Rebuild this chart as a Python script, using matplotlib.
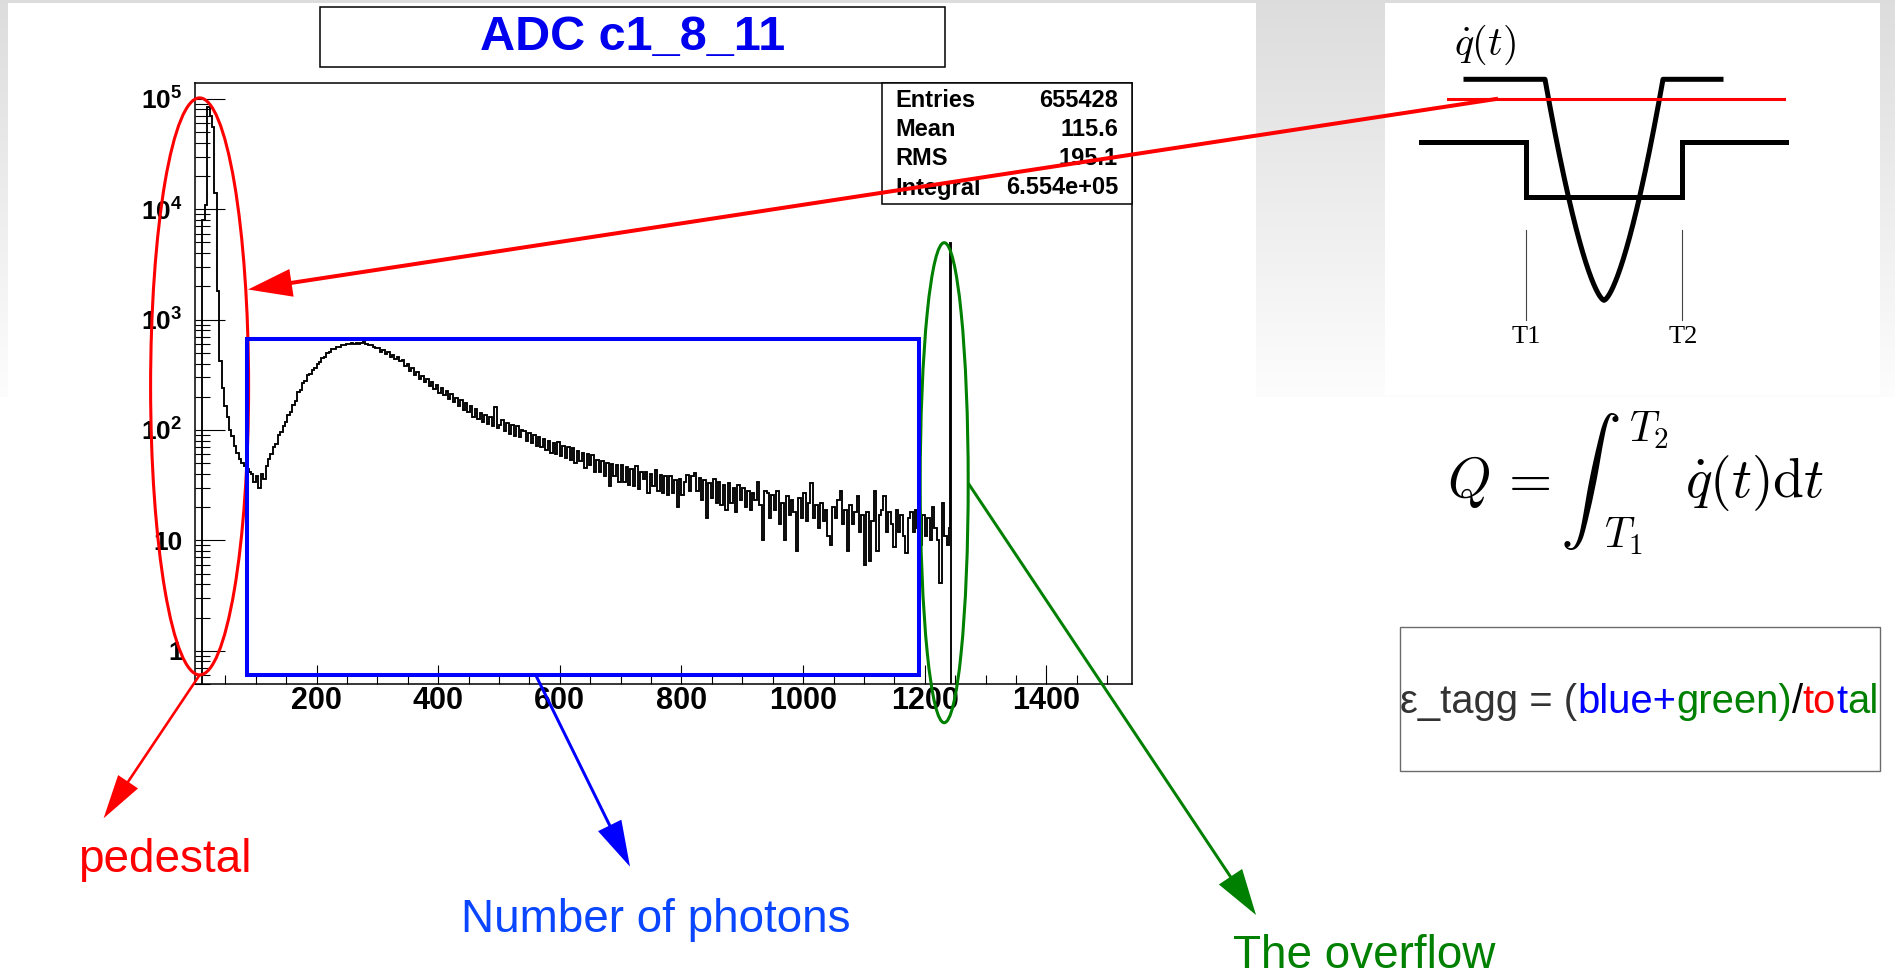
import numpy as np
import matplotlib
matplotlib.use("Agg")
import matplotlib.pyplot as plt
from matplotlib.patches import Rectangle, Ellipse, FancyArrow
from matplotlib.ticker import FixedLocator, NullFormatter

W, H = 1895, 973

plt.rcParams["font.family"] = ["Liberation Sans", "DejaVu Sans"]
plt.rcParams["mathtext.fontset"] = "custom"
plt.rcParams["mathtext.rm"] = "Liberation Sans:bold"
plt.rcParams["mathtext.it"] = "Liberation Sans:bold"
plt.rcParams["mathtext.bf"] = "Liberation Sans:bold"

# ---------------- histogram contents (counts per bin) ----------------
BIN_WIDTH = 4  # ADC channels per bin
counts_pedestal = [0, 0, 0, 8000, 11000, 85000, 70000, 55000, 14000, 1800,
                   420, 240, 165, 130, 100, 88, 72, 62, 55, 50,
                   47, 44, 42, 40, 34, 38, 30, 40, 36]
counts_peak = [47, 55, 60, 70, 74, 90, 96, 108, 118, 136,
               144, 170, 182, 220, 232, 268, 278, 312, 322, 352,
               362, 392, 412, 448, 458, 496, 508, 536, 545, 566,
               570, 584, 590, 602, 598, 614, 600, 618, 606, 616,
               622, 604, 592, 584, 566, 558]
counts_tail = [548, 512, 532, 490, 505, 462, 478, 440, 455, 418,
               428, 382, 392, 345, 362, 318, 336, 292, 310, 274,
               292, 252, 274, 234, 256, 216, 242, 206, 224, 190,
               212, 178, 196, 164, 186, 152, 174, 145, 164, 132,
               156, 126, 142, 118, 138, 114, 130, 108, 160, 104,
               112, 122, 98, 116, 92, 112, 88, 108, 86, 100,
               98, 80, 94, 76, 90, 72, 86, 70, 82, 66,
               80, 62, 76, 60, 78, 58, 72, 56, 70, 54,
               68, 50, 65, 52, 62, 45, 60, 48, 59, 42,
               54, 42, 52, 38, 50, 31, 49, 38, 48, 34,
               48, 34, 46, 32, 44, 31, 47, 29, 42, 36,
               42, 27, 40, 31, 43, 28, 39, 27, 38, 26,
               38, 27, 35, 20, 36, 26, 34, 39, 28, 38,
               41, 28, 37, 23, 35, 16, 33, 24, 36, 22,
               34, 21, 32, 19, 33, 22, 30, 18, 32, 23,
               30, 20, 28, 19, 27, 23, 34, 21, 10, 28,
               27, 16, 26, 19, 28, 14, 22, 10, 25, 17,
               23, 18, 8, 24, 16, 27, 15, 22, 33, 16,
               21, 13, 22, 15, 19, 11, 9, 20, 16, 23,
               28, 14, 19, 8, 21, 14, 18, 25, 12, 17,
               6, 18, 6.5, 15, 28, 8, 17, 19, 25, 12,
               18, 14, 8.8, 19, 12, 17, 11, 7.7, 16, 18,
               12, 19, 13, 9, 17, 11, 16, 10, 20, 13,
               10, 4.1, 22, 11, 9]
# saturated channels at the end of the ADC range
counts_overflow = [13, 4900, 76]
overflow_edges = [1241.5, 1242.5, 1243.5]

stats_labels = ["Entries", "Mean", "RMS", "Integral"]
stats_values = ["655428", "115.6", "195.1", "6.554e+05"]
hist_title = "ADC c1_8_11"
x_tick_values = [200, 400, 600, 800, 1000, 1200, 1400]
x_tick_labels = ["200", "400", "600", "800", "1000", "1200", "1400"]
y_tick_values = [1, 10, 100, 1000, 10000, 100000]
y_tick_labels = ["1", "10", r"$10^{2}$", r"$10^{3}$", r"$10^{4}$", r"$10^{5}$"]

# ---------------- figure ----------------
fig = plt.figure(figsize=(W / 100, H / 100), dpi=100)

# slide background: grey fading to white
bg = fig.add_axes([0, 0, 1, 1], zorder=0)
bg.set_xlim(0, W)
bg.set_ylim(H, 0)
bg.axis("off")
rows = np.arange(H)
shade = np.where(rows < 397, 0.865 + (0.992 - 0.865) * rows / 397.0, 1.0)
img = np.repeat(shade[:, None, None], 3, axis=2)
bg.imshow(img, extent=(0, W, H, 0), aspect="auto", interpolation="bilinear")
bg.add_patch(Rectangle((8, 3), 1248, H, fc="white", ec="none"))
bg.add_patch(Rectangle((1385, 3), 495, 392, fc="white", ec="none"))

# ---------------- histogram pad ----------------
L, R, T, B = 195, 1131.5, 83, 684
ax = fig.add_axes([L / W, 1 - B / H, (R - L) / W, (B - T) / H], zorder=2)
ax.set_yscale("log")
ax.set_xlim(0, 1540)
ax.set_ylim(0.5, 1.39e5)

main_counts = counts_pedestal + counts_peak + counts_tail
edges = np.append(np.arange(0, BIN_WIDTH * len(main_counts) + 1, BIN_WIDTH),
                  overflow_edges)
values = np.array(main_counts + counts_overflow, dtype=float)
drawn = np.where(values > 0, values, 0.2)
ax.stairs(drawn, edges, baseline=0.2, color="black", lw=1.35)

ax.set_xticks(x_tick_values, labels=x_tick_labels, fontsize=22, fontweight="bold")
ax.xaxis.set_minor_locator(FixedLocator(np.arange(50, 1540, 50)))
ax.xaxis.set_minor_formatter(NullFormatter())
ax.set_yticks(y_tick_values, labels=y_tick_labels, fontsize=19, fontweight="bold")
minor_y = [m * 10.0 ** k for k in range(-1, 6) for m in range(2, 10)]
ax.yaxis.set_minor_locator(FixedLocator([v for v in minor_y if 0.5 <= v <= 1.39e5]))
ax.yaxis.set_minor_formatter(NullFormatter())
ax.tick_params(axis="x", which="major", direction="in", length=13.5, width=0.8, pad=1.5)
ax.tick_params(axis="x", which="minor", direction="in", length=6.7, width=0.8)
ax.tick_params(axis="y", which="major", direction="in", length=21.6, width=0.8, pad=9)
ax.tick_params(axis="y", which="minor", direction="in", length=10.8, width=0.8)
ax.tick_params(top=False, right=False, which="both")
for sp in ax.spines.values():
    sp.set_linewidth(1.1)

# ---------------- overlay in pixel coordinates ----------------
ov = fig.add_axes([0, 0, 1, 1], zorder=5)
ov.set_xlim(0, W)
ov.set_ylim(H, 0)
ov.axis("off")
ov.patch.set_visible(False)

# title box
ov.add_patch(Rectangle((320, 7), 625, 60, fc="white", ec="black", lw=1.1, zorder=1))
ov.text(633, 50, hist_title, color="#0000ee", fontsize=35, fontweight="bold",
        ha="center", va="baseline", zorder=2)

# statistics box
ov.add_patch(Rectangle((882, 83), 249.5, 121, fc="white", ec="black", lw=1.1, zorder=1))
for i, (lab, val) in enumerate(zip(stats_labels, stats_values)):
    yy = 100.7 + i * 29.1
    ov.text(895, yy, lab, fontsize=17, fontweight="bold", ha="left", va="center", zorder=2)
    ov.text(1118, yy, val, fontsize=17, fontweight="bold", ha="right", va="center", zorder=2)

# highlighted regions
ov.add_patch(Ellipse((199.6, 386.4), 98, 577, fill=False, ec="#ff0000", lw=2.2, zorder=6))
ov.add_patch(Ellipse((944.2, 482.7), 48, 480, fill=False, ec="#008000", lw=2.2, zorder=6))
ov.add_patch(Rectangle((247.4, 338.5), 671.9, 336, fill=False, ec="#0000ff", lw=2.9, zorder=6))


def arrow(x0, y0, x1, y1, color, w, hw, hl):
    ov.add_patch(FancyArrow(x0, y0, x1 - x0, y1 - y0, width=w, head_width=hw,
                            head_length=hl, length_includes_head=True,
                            color=color, lw=0, zorder=7))


arrow(1498, 98.7, 248, 289.5, "#ff0000", 4.0, 28, 44)
arrow(199.6, 675, 103.6, 818.3, "#ff0000", 2.6, 24, 44)
arrow(535.7, 675, 630, 866.7, "#0000ff", 3.0, 26, 46)
arrow(968.3, 483.3, 1256, 915, "#008000", 3.0, 28, 46)

ov.text(164.5, 872, "pedestal", color="#ff0000", fontsize=33, ha="center", va="baseline")
ov.text(656, 931.7, "Number of photons", color="#0a46ff", fontsize=33, ha="center", va="baseline")
ov.text(1364, 968, "The overflow", color="#008000", fontsize=33, ha="center", va="baseline")

# ---------------- pulse / gate sketch ----------------
u = np.linspace(-1, 1, 301)
px = np.concatenate([[1466], 1604 + 59 * u, [1721]])
py = np.concatenate([[79.3], 79.3 + 221 * (1 - np.abs(u) ** 1.5), [79.3]])
ov.plot(px, py, color="black", lw=3.6, solid_joinstyle="round", zorder=3)
gx = [1421, 1525.5, 1525.5, 1682, 1682, 1786]
gy = [141.7, 141.7, 196.7, 196.7, 141.7, 141.7]
ov.plot(gx, gy, color="black", lw=3.6, solid_joinstyle="miter", zorder=3)
for xm in (1525.5, 1682):
    ov.plot([xm, xm], [230, 320], color="#444444", lw=0.8, zorder=3)
ov.text(1526, 337, "T1", family="Liberation Serif", fontsize=19, ha="center", va="center")
ov.text(1683, 337, "T2", family="Liberation Serif", fontsize=19, ha="center", va="center")
ov.text(1454, 45, r"$\dot{q}(t)$", math_fontfamily="cm", fontsize=29, ha="left", va="center")
ov.plot([1448, 1784], [98.7, 98.7], color="#ff0000", lw=2.2, zorder=4)

# charge integral
ov.text(1447, 497, r"$Q\,=$", math_fontfamily="cm", fontsize=40, ha="left", va="baseline")
ov.text(1590, 482, r"$\int$", math_fontfamily="cm", fontsize=44, ha="center", va="center")
ov.text(1629, 430, r"$T_2$", math_fontfamily="cm", fontsize=30, ha="left", va="center")
ov.text(1604, 536, r"$T_1$", math_fontfamily="cm", fontsize=30, ha="left", va="center")
ov.text(1685, 497, r"$\dot{q}(t)\mathrm{d}t$", math_fontfamily="cm", fontsize=40,
        ha="left", va="baseline")

# efficiency definition box
ov.add_patch(Rectangle((1400, 627), 480, 144, fill=False, ec="#6b6b6b", lw=1.0))
segments = [("ε_tagg = (", "#333333"), ("blue+", "#0000ff"), ("green)", "#008000"),
            ("/", "#000000"), ("to", "#ff0000"), ("t", "#0000ff"), ("al", "#008000")]
renderer = fig.canvas.get_renderer()
xc = 1400
for s, c in segments:
    t = ov.text(xc, 713, s, color=c, fontsize=28.8, ha="left", va="baseline")
    xc += t.get_window_extent(renderer).width

fig.savefig("out.png", dpi=100)
